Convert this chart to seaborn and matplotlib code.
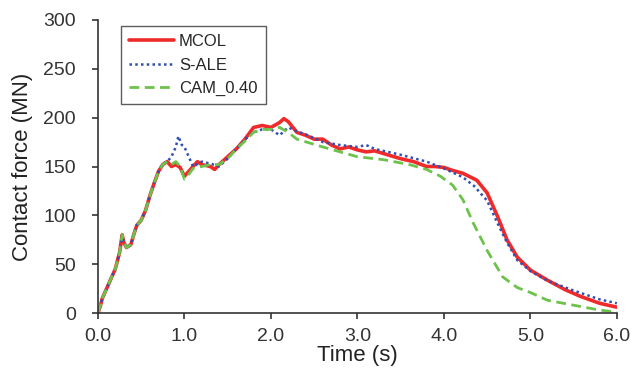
import numpy as np
import pandas as pd
import matplotlib
matplotlib.use("Agg")
import matplotlib.pyplot as plt
import seaborn as sns

# MCOL curve (time in s, force in MN)
mcol_t = [0.0, 0.03, 0.05, 0.1, 0.15, 0.2, 0.25, 0.28, 0.3, 0.33, 0.38, 0.42, 0.45, 0.5, 0.55, 0.6,
          0.65, 0.7, 0.75, 0.8, 0.85, 0.9, 0.95, 1.0, 1.05, 1.1, 1.15, 1.2, 1.3, 1.35, 1.4, 1.5,
          1.6, 1.7, 1.8, 1.9, 2.0, 2.1, 2.15, 2.2, 2.3, 2.4, 2.5, 2.6, 2.7, 2.8, 2.9, 3.0, 3.1,
          3.2, 3.35, 3.5, 3.65, 3.8, 3.9, 4.0, 4.1, 4.22, 4.38, 4.5, 4.62, 4.73, 4.85, 5.0,
          5.19, 5.4, 5.58, 5.8, 6.0]
mcol_f = [0, 8, 15, 25, 35, 45, 62, 80, 72, 67, 70, 82, 90, 95, 105, 120,
          133, 145, 152, 155, 150, 152, 149, 140, 145, 150, 155, 152, 150, 147, 152, 160,
          168, 178, 190, 192, 190, 195, 199, 196, 185, 182, 178, 178, 172, 168, 170, 167, 165,
          166, 162, 158, 155, 150, 150, 149, 146, 143, 136, 123, 99, 75, 57, 44,
          34, 24, 17, 10, 6]

# S-ALE curve
sale_t = [0.0, 0.03, 0.05, 0.1, 0.15, 0.2, 0.25, 0.28, 0.3, 0.33, 0.38, 0.42, 0.45, 0.5, 0.55, 0.6,
          0.65, 0.7, 0.75, 0.8, 0.85, 0.9, 0.93, 0.97, 1.0, 1.05, 1.1, 1.2, 1.3, 1.4, 1.5, 1.6,
          1.7, 1.8, 1.9, 2.0, 2.1, 2.2, 2.3, 2.4, 2.6, 2.8, 3.0, 3.1, 3.2, 3.5, 3.8, 4.0, 4.22,
          4.35, 4.5, 4.62, 4.73, 4.85, 5.0, 5.2, 5.5, 5.8, 6.0]
sale_f = [0, 8, 15, 25, 35, 45, 62, 80, 72, 67, 70, 82, 90, 95, 105, 120,
          133, 145, 153, 155, 160, 170, 181, 172, 170, 160, 150, 155, 153, 150, 158, 168,
          178, 185, 188, 188, 182, 190, 186, 183, 175, 172, 170, 172, 168, 162, 155, 148, 139,
          130, 115, 92, 72, 54, 43, 33, 23, 14, 10]

# CAM_0.40 curve
cam_t = [0.0, 0.03, 0.05, 0.1, 0.15, 0.2, 0.25, 0.28, 0.3, 0.33, 0.38, 0.42, 0.45, 0.5, 0.55, 0.6,
         0.65, 0.7, 0.75, 0.8, 0.85, 0.9, 0.95, 1.0, 1.05, 1.1, 1.2, 1.3, 1.4, 1.5, 1.6, 1.7,
         1.8, 1.9, 2.0, 2.1, 2.2, 2.3, 2.45, 2.6, 2.8, 3.0, 3.3, 3.6, 3.8, 3.96, 4.1, 4.22,
         4.34, 4.5, 4.68, 4.85, 5.0, 5.2, 5.5, 5.8, 6.0]
cam_f = [0, 8, 15, 25, 35, 45, 62, 80, 72, 67, 70, 82, 90, 95, 105, 120,
         133, 145, 152, 155, 152, 155, 150, 137, 142, 148, 150, 152, 152, 158, 168, 176,
         185, 188, 188, 190, 185, 178, 174, 170, 165, 160, 157, 152, 147, 140, 131, 116,
         92, 64, 37, 26, 21, 13, 8, 3, 1]

sns.set_style("ticks")
plt.rcParams['font.family'] = ['Liberation Sans', 'DejaVu Sans']

fig, ax = plt.subplots(figsize=(6.32, 3.70), dpi=100)
fig.subplots_adjust(left=0.155, right=0.976, top=0.946, bottom=0.154)

sns.lineplot(x=mcol_t, y=mcol_f, ax=ax, color='#ee2a2a', lw=2.6, label='MCOL')
sns.lineplot(x=sale_t, y=sale_f, ax=ax, color='#2e4fb5', lw=1.8, ls=(0, (1, 1.3)), label='S-ALE')
sns.lineplot(x=cam_t, y=cam_f, ax=ax, color='#6cc24a', lw=2.0, ls=(0, (3.5, 2)), label='CAM_0.40')

ax.set_xlim(0, 6)
ax.set_ylim(0, 300)
ax.set_xticks(np.arange(0, 6.1, 1.0))
ax.set_xticklabels([f"{v:.1f}" for v in np.arange(0, 6.1, 1.0)])
ax.set_yticks(range(0, 301, 50))
ax.set_xlabel('Time (s)', fontsize=16, color='#222222', labelpad=0)
ax.set_ylabel('Contact force (MN)', fontsize=16, color='#222222', labelpad=7)
ax.tick_params(labelsize=14, colors='#333333', length=4, width=1.2)
ax.tick_params(axis='x', pad=7)
ax.tick_params(axis='y', pad=12)
for s in ['top', 'right']:
    ax.spines[s].set_visible(False)
for s in ['left', 'bottom']:
    ax.spines[s].set_color('#333333')
    ax.spines[s].set_linewidth(1.2)

leg = ax.legend(loc='upper left', bbox_to_anchor=(0.044, 0.98), borderaxespad=0,
                fontsize=12, frameon=True, fancybox=False, edgecolor='#333333',
                handlelength=2.7, borderpad=0.5, labelspacing=0.5, handletextpad=0.3)
leg.get_frame().set_linewidth(1.0)

fig.savefig('out.png', dpi=100)
